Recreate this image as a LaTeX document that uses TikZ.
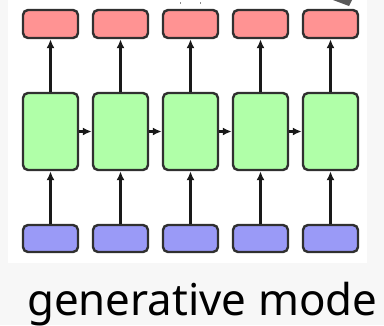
\documentclass[tikz,border=0pt]{standalone}
\usepackage{fontspec}
\setmainfont{Noto Sans}
\usetikzlibrary{arrows.meta}
\definecolor{bgg}{HTML}{F7F7F7}
\definecolor{redf}{HTML}{FF9393}
\definecolor{greenf}{HTML}{B0FFA8}
\definecolor{bluef}{HTML}{9A9AF7}
\definecolor{edge}{HTML}{303030}
\tikzset{
  cell/.style={draw=edge, line width=2.4pt, rounded corners=5pt, minimum width=55pt, inner sep=0pt},
  outbox/.style={cell, fill=redf, minimum height=28pt},
  hidbox/.style={cell, fill=greenf, minimum height=77pt},
  inbox/.style={cell, fill=bluef, minimum height=27pt},
  conn/.style={draw=black!90, line width=2.2pt, -{Latex[length=9pt,width=8pt]}},
}
\begin{document}
\begin{tikzpicture}[x=1pt,y=-1pt]
\fill[bgg] (0,0) rectangle (384,325);
\fill[white] (8,0) rectangle (367,263);
\useasboundingbox (0,0) rectangle (384,325);
\fill[black!65] (333,0) -- (352,0) -- (349,6) -- cycle;
\fill[black!45] (179.5,2) rectangle (180.5,4);
\fill[black!45] (199.5,2) rectangle (200.5,4);
\foreach \i in {1,...,5}{
  \pgfmathsetmacro{\cx}{50.5+70*(\i-1)}
  \node[outbox] (o\i) at (\cx,24) {};
  \node[hidbox] (h\i) at (\cx,131.5) {};
  \node[inbox] (x\i) at (\cx,238.5) {};
  \draw[conn] (x\i) -- (h\i);
  \draw[conn] (h\i) -- (o\i);
}
\foreach \i/\j in {1/2,2/3,3/4,4/5}{
  \draw[conn] (h\i) -- (h\j);
}
\node[anchor=base west, inner sep=0pt] (cap) at (27,315) {\resizebox{350pt}{!}{\fontsize{44}{44}\selectfont generative mode}};
\end{tikzpicture}
\end{document}
